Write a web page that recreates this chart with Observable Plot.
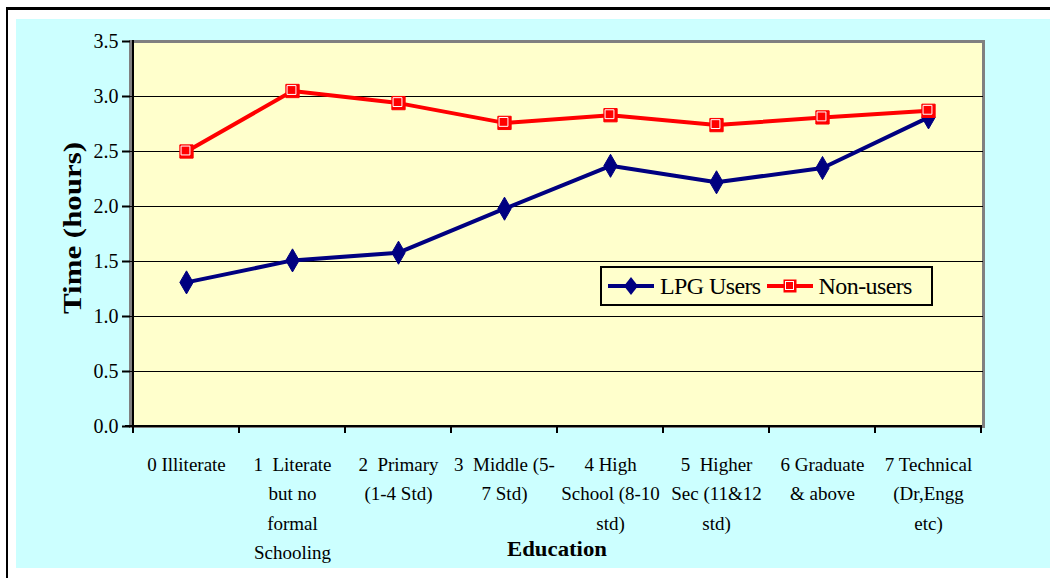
<!DOCTYPE html>
<html>
<head>
<meta charset="utf-8">
<script src="https://cdn.jsdelivr.net/npm/d3@7"></script>
<script src="https://cdn.jsdelivr.net/npm/@observablehq/plot@0.6"></script>
<style>
  body { margin: 0; background: #ffffff; }
  #wrap { position: relative; width: 1050px; height: 578px; overflow: hidden; font-family: "Liberation Serif", "Times New Roman", serif; }
  #outer { position: absolute; left: 6px; top: 7px; width: 1100px; height: 620px; border-left: 2px solid #000; border-top: 3px solid #000; }
  #bg { position: absolute; left: 16px; top: 19px; width: 1034px; height: 549px; background: #ccffff; }
  #chart { position: absolute; left: 0; top: 0; }
  #legend { position: absolute; left: 600px; top: 266px; width: 329px; height: 36px; border: 2px solid #000; background: #ffffcc; display: flex; align-items: center; font-size: 24px; color: #000; letter-spacing: -0.6px; }
  #legend .item { display: flex; align-items: center; }
  #legend svg { display: block; }
</style>
</head>
<body>
<div id="wrap">
  <div id="outer"></div>
  <div id="bg"></div>
  <div id="chart"></div>
  <div id="legend"></div>
</div>
<script>
const categories = [
  "0 Illiterate",
  "1  Literate\nbut no\nformal\nSchooling",
  "2  Primary\n(1-4 Std)",
  "3  Middle (5-\n7 Std)",
  "4 High\nSchool (8-10\nstd)",
  "5  Higher\nSec (11&12\nstd)",
  "6 Graduate\n& above",
  "7 Technical\n(Dr,Engg\netc)"
];
const lpgUsers = [1.31, 1.51, 1.58, 1.98, 2.37, 2.22, 2.35, 2.81];
const nonUsers = [2.50, 3.05, 2.94, 2.76, 2.83, 2.74, 2.81, 2.87];
const yTicks = [0, 0.5, 1.0, 1.5, 2.0, 2.5, 3.0, 3.5];
const seriesNames = ["LPG Users", "Non-users"];
const yTitle = "Time (hours)";
const xTitle = "Education";

const lpgRows = categories.map((c, i) => ({cat: c, v: lpgUsers[i]}));
const nonRows = categories.map((c, i) => ({cat: c, v: nonUsers[i]}));

function axisLines(index, scales) {
  const g = d3.create("svg:g");
  const xs = categories.map(c => scales.x(c));
  const step = xs[1] - xs[0];
  const x0 = xs[0] - step / 2;
  const x1 = xs[xs.length - 1] + step / 2;
  const y0 = scales.y(0), yTop = scales.y(3.5);
  g.append("line").attr("x1", x0).attr("x2", x0).attr("y1", yTop - 1).attr("y2", y0 + 1)
    .attr("stroke", "#000").attr("stroke-width", 2);
  g.append("line").attr("x1", x0 - 8).attr("x2", x1 + 1).attr("y1", y0).attr("y2", y0)
    .attr("stroke", "#000").attr("stroke-width", 2);
  for (let i = 0; i <= categories.length; i++) {
    const x = x0 + i * step;
    g.append("line").attr("x1", x).attr("x2", x).attr("y1", y0).attr("y2", y0 + 7)
      .attr("stroke", "#000").attr("stroke-width", 2);
  }
  return g.node();
}

const chart = Plot.plot({
  width: 1050,
  height: 578,
  marginLeft: 130,
  marginRight: 67,
  marginTop: 41,
  marginBottom: 152,
  style: { background: "transparent", fontFamily: "'Liberation Serif', 'Times New Roman', serif", fontSize: "19px", color: "#000", overflow: "visible" },
  x: { type: "point", domain: categories, padding: 0.5, label: null },
  y: { domain: [0, 3.5], ticks: yTicks, label: null },
  marks: [
    Plot.frame({ fill: "#ffffcc", stroke: "#808080", strokeWidth: 3 }),
    Plot.gridY(yTicks.filter(t => t > 0 && t < 3.5), { stroke: "#000", strokeOpacity: 1, strokeWidth: 1.2 }),
    axisLines,
    Plot.axisY({ ticks: yTicks, tickFormat: d3.format(".1f"), tickSize: 8, tickPadding: 4, fontSize: 20, label: null, strokeWidth: 2 }),
    Plot.axisX({ tickSize: 0, tickPadding: 23, fontSize: 19, lineHeight: 1.56, label: null, fill: "#000" }),
    Plot.line(lpgRows, { x: "cat", y: "v", stroke: "#000080", strokeWidth: 4 }),
    Plot.dot(lpgRows, { x: "cat", y: "v", symbol: "diamond", r: 7, fill: "#000080", stroke: "#000080", strokeWidth: 1 }),
    Plot.line(nonRows, { x: "cat", y: "v", stroke: "#ff0000", strokeWidth: 4 }),
    Plot.dot(nonRows, { x: "cat", y: "v", symbol: "square", r: 7.5, fill: "#ff0000", stroke: "#ff0000", strokeWidth: 1 }),
    Plot.dot(nonRows, { x: "cat", y: "v", symbol: "square", r: 5, fill: "none", stroke: "#ffffff", strokeWidth: 1, dx: -1, dy: -1 }),
    Plot.text([yTitle], { frameAnchor: "left", textAnchor: "middle", dx: -58, dy: -6, rotate: -90, fontWeight: "bold", fontSize: 25, fill: "#000" }),
    Plot.text([xTitle], { frameAnchor: "bottom", textAnchor: "middle", dy: 129, fontWeight: "bold", fontSize: 22, fill: "#000" })
  ]
});
document.getElementById("chart").appendChild(chart);

// stretch the titles along their baselines to match the reference proportions
d3.select(chart).selectAll("text").each(function () {
  const t = this.textContent;
  if (t === yTitle) d3.select(this).attr("textLength", 172).attr("lengthAdjust", "spacingAndGlyphs");
  if (t === xTitle) d3.select(this).attr("textLength", 100).attr("lengthAdjust", "spacingAndGlyphs");
});

// Legend
const legend = d3.select("#legend");
const colors = ["#000080", "#ff0000"];
seriesNames.forEach((name, i) => {
  const item = legend.append("div").attr("class", "item").style("margin-left", "4px");
  const svg = item.append("svg").attr("width", 50).attr("height", 20);
  svg.append("line").attr("x1", 2).attr("x2", 48).attr("y1", 10).attr("y2", 10)
    .attr("stroke", colors[i]).attr("stroke-width", 4);
  if (i === 0) {
    svg.append("path").attr("d", "M25,1 L32,10 L25,19 L18,10 Z").attr("fill", colors[i]);
  } else {
    svg.append("rect").attr("x", 18.5).attr("y", 3.5).attr("width", 13).attr("height", 13).attr("fill", colors[i]);
    svg.append("rect").attr("x", 20.5).attr("y", 5.5).attr("width", 8).attr("height", 8).attr("fill", "none").attr("stroke", "#fff").attr("stroke-width", 1);
  }
  item.append("span").text(name).style("margin-left", "4px");
});
</script>
</body>
</html>
